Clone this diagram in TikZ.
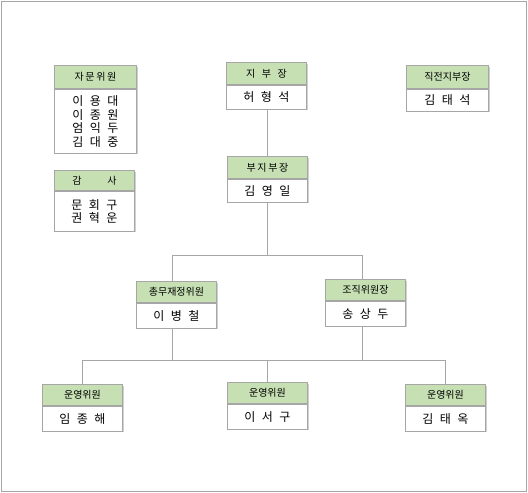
\documentclass[tikz,border=0pt]{standalone}
\usepackage{fontspec}
\setmainfont{Noto Sans CJK KR}
\definecolor{hdr}{HTML}{C6E0B4}
\definecolor{edgec}{HTML}{A6A6A6}
\definecolor{shadowc}{HTML}{D0D0D0}
\newcommand\kg{\hspace{6.5pt}}
\newcommand\orgbox[8]{% name, x, y, w, header h, body h, header, body
  \fill[shadowc] (#2+2,#3+2) rectangle ++(#4,#5+#6);
  \node[hdrbox, minimum width=#4pt, minimum height=#5pt] (#1h) at (#2,#3) {#7};
  \node[bodybox, minimum width=#4pt, minimum height=#6pt] (#1) at (#1h.south west) {#8};
}
\begin{document}
\begin{tikzpicture}[x=1pt,y=-1pt,
  hdrbox/.style={draw=edgec, fill=hdr, line width=0.9pt, inner sep=0pt, anchor=north west,
    font=\fontsize{10}{12}\selectfont},
  bodybox/.style={draw=edgec, fill=white, line width=0.9pt, inner sep=0pt, anchor=north west,
    align=center, font=\fontsize{12}{13.6}\selectfont},
  conn/.style={draw=edgec, line width=0.9pt}]
\useasboundingbox (0,0) rectangle (528,493);
\draw[edgec, line width=1pt] (1.5,1.5) rectangle (526.5,491.5);

\orgbox{jm}{54}{65}{82}{23}{64}{자\,문\,위\,원}{이\kg 용\kg 대\\이\kg 종\kg 원\\엄\kg 익\kg 두\\김\kg 대\kg 중}
\orgbox{gs}{54}{170}{80}{20}{40}{감\hspace{26pt}사}{문\kg 회\kg 구\\권\kg 혁\kg 운}
\orgbox{jb}{226}{62}{80}{22}{24}{지\kg 부\kg 장}{허\kg 형\kg 석}
\orgbox{jj}{406}{65}{82}{23}{22}{직전지부장}{김\kg 태\kg 석}
\orgbox{bj}{227}{156}{80}{22}{23}{부\,지\,부\,장}{김\kg 영\kg 일}
\orgbox{cm}{136}{281}{80}{21}{25}{총무재정위원}{이\kg 병\kg 철}
\orgbox{jw}{325}{279}{80}{21}{25}{조직위원장}{송\kg 상\kg 두}
\orgbox{ua}{42}{384}{80}{21}{25}{운영위원}{임\kg 종\kg 해}
\orgbox{ub}{227}{382}{80}{21}{25}{운영위원}{이\kg 서\kg 구}
\orgbox{uc}{405}{384}{80}{21}{25}{운영위원}{김\kg 태\kg 옥}

\coordinate (a0) at (267,255);
\coordinate (a1) at (172,255);
\coordinate (a2) at (362,255);
\coordinate (b1) at (172,360);
\coordinate (b2) at (362,360);

\draw[conn] (jb.south -| a0) -- (bjh.north -| a0);
\draw[conn] (bj.south -| a0) -- (a0);
\draw[conn] (cmh.north -| a1) -- (a1) -- (a2) -- (jwh.north -| a2);
\draw[conn] (cm.south -| b1) -- (b1);
\draw[conn] (jw.south -| b2) -- (b2);
\draw[conn] (uah.north) |- (uch.north |- b1) -- (uch.north);
\draw[conn] (ubh.north) -- (ubh.north |- b1);
\end{tikzpicture}
\end{document}
